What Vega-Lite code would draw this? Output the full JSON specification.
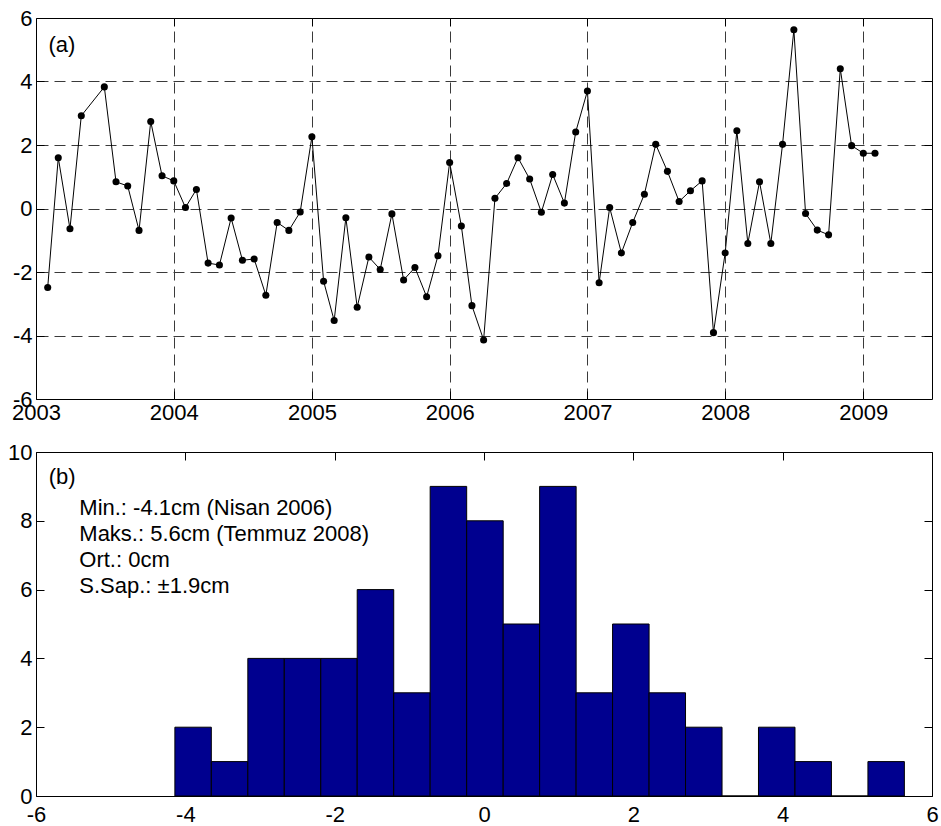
{
  "$schema": "https://vega.github.io/schema/vega-lite/v6.json",
  "background": "white",
  "padding": {"left": 7, "top": 6, "right": 3, "bottom": 0},
  "config": {
    "font": "Liberation Sans",
    "view": {"stroke": "black", "strokeWidth": 1, "fill": "white"},
    "axis": {
      "domain": false,
      "labelFont": "Liberation Sans",
      "labelFontSize": 22,
      "labelColor": "black",
      "labelFlush": false,
      "labelOverlap": false,
      "ticks": true,
      "tickColor": "black",
      "tickSize": -8,
      "tickWidth": 1,
      "gridColor": "#3a3a3a",
      "gridDash": [11, 6],
      "gridWidth": 1,
      "gridOpacity": 1
    },
    "text": {"font": "Liberation Sans", "fontSize": 22, "color": "black"}
  },
  "datasets": {
    "monthly": [
      {"month": "2003-02-01", "anomaly_cm": -2.49},
      {"month": "2003-03-01", "anomaly_cm": 1.60},
      {"month": "2003-04-01", "anomaly_cm": -0.64},
      {"month": "2003-05-01", "anomaly_cm": 2.92},
      {"month": "2003-07-01", "anomaly_cm": 3.83},
      {"month": "2003-08-01", "anomaly_cm": 0.84},
      {"month": "2003-09-01", "anomaly_cm": 0.71},
      {"month": "2003-10-01", "anomaly_cm": -0.69},
      {"month": "2003-11-01", "anomaly_cm": 2.74},
      {"month": "2003-12-01", "anomaly_cm": 1.03},
      {"month": "2004-01-01", "anomaly_cm": 0.87},
      {"month": "2004-02-01", "anomaly_cm": 0.03},
      {"month": "2004-03-01", "anomaly_cm": 0.60},
      {"month": "2004-04-01", "anomaly_cm": -1.72},
      {"month": "2004-05-01", "anomaly_cm": -1.78},
      {"month": "2004-06-01", "anomaly_cm": -0.30},
      {"month": "2004-07-01", "anomaly_cm": -1.63},
      {"month": "2004-08-01", "anomaly_cm": -1.59},
      {"month": "2004-09-01", "anomaly_cm": -2.73},
      {"month": "2004-10-01", "anomaly_cm": -0.44},
      {"month": "2004-11-01", "anomaly_cm": -0.69},
      {"month": "2004-12-01", "anomaly_cm": -0.11},
      {"month": "2005-01-01", "anomaly_cm": 2.26},
      {"month": "2005-02-01", "anomaly_cm": -2.29},
      {"month": "2005-03-01", "anomaly_cm": -3.53},
      {"month": "2005-04-01", "anomaly_cm": -0.29},
      {"month": "2005-05-01", "anomaly_cm": -3.11},
      {"month": "2005-06-01", "anomaly_cm": -1.53},
      {"month": "2005-07-01", "anomaly_cm": -1.92},
      {"month": "2005-08-01", "anomaly_cm": -0.17},
      {"month": "2005-09-01", "anomaly_cm": -2.25},
      {"month": "2005-10-01", "anomaly_cm": -1.86},
      {"month": "2005-11-01", "anomaly_cm": -2.78},
      {"month": "2005-12-01", "anomaly_cm": -1.49},
      {"month": "2006-01-01", "anomaly_cm": 1.45},
      {"month": "2006-02-01", "anomaly_cm": -0.55},
      {"month": "2006-03-01", "anomaly_cm": -3.06},
      {"month": "2006-04-01", "anomaly_cm": -4.14},
      {"month": "2006-05-01", "anomaly_cm": 0.32},
      {"month": "2006-06-01", "anomaly_cm": 0.79},
      {"month": "2006-07-01", "anomaly_cm": 1.60},
      {"month": "2006-08-01", "anomaly_cm": 0.93},
      {"month": "2006-09-01", "anomaly_cm": -0.12},
      {"month": "2006-10-01", "anomaly_cm": 1.07},
      {"month": "2006-11-01", "anomaly_cm": 0.17},
      {"month": "2006-12-01", "anomaly_cm": 2.41},
      {"month": "2007-01-01", "anomaly_cm": 3.70},
      {"month": "2007-02-01", "anomaly_cm": -2.34},
      {"month": "2007-03-01", "anomaly_cm": 0.03},
      {"month": "2007-04-01", "anomaly_cm": -1.40},
      {"month": "2007-05-01", "anomaly_cm": -0.44},
      {"month": "2007-06-01", "anomaly_cm": 0.45},
      {"month": "2007-07-01", "anomaly_cm": 2.02},
      {"month": "2007-08-01", "anomaly_cm": 1.17},
      {"month": "2007-09-01", "anomaly_cm": 0.22},
      {"month": "2007-10-01", "anomaly_cm": 0.56},
      {"month": "2007-11-01", "anomaly_cm": 0.87},
      {"month": "2007-12-01", "anomaly_cm": -3.91},
      {"month": "2008-01-01", "anomaly_cm": -1.40},
      {"month": "2008-02-01", "anomaly_cm": 2.45},
      {"month": "2008-03-01", "anomaly_cm": -1.10},
      {"month": "2008-04-01", "anomaly_cm": 0.84},
      {"month": "2008-05-01", "anomaly_cm": -1.10},
      {"month": "2008-06-01", "anomaly_cm": 2.02},
      {"month": "2008-07-01", "anomaly_cm": 5.63},
      {"month": "2008-08-01", "anomaly_cm": -0.16},
      {"month": "2008-09-01", "anomaly_cm": -0.68},
      {"month": "2008-10-01", "anomaly_cm": -0.83},
      {"month": "2008-11-01", "anomaly_cm": 4.40},
      {"month": "2008-12-01", "anomaly_cm": 1.98},
      {"month": "2009-01-01", "anomaly_cm": 1.74},
      {"month": "2009-02-01", "anomaly_cm": 1.74}
    ],
    "histogram": [
      {"bin_start": -4.14, "bin_end": -3.652, "count": 2},
      {"bin_start": -3.652, "bin_end": -3.163, "count": 1},
      {"bin_start": -3.163, "bin_end": -2.675, "count": 4},
      {"bin_start": -2.675, "bin_end": -2.186, "count": 4},
      {"bin_start": -2.186, "bin_end": -1.698, "count": 4},
      {"bin_start": -1.698, "bin_end": -1.209, "count": 6},
      {"bin_start": -1.209, "bin_end": -0.721, "count": 3},
      {"bin_start": -0.721, "bin_end": -0.232, "count": 9},
      {"bin_start": -0.232, "bin_end": 0.257, "count": 8},
      {"bin_start": 0.257, "bin_end": 0.745, "count": 5},
      {"bin_start": 0.745, "bin_end": 1.234, "count": 9},
      {"bin_start": 1.234, "bin_end": 1.722, "count": 3},
      {"bin_start": 1.722, "bin_end": 2.211, "count": 5},
      {"bin_start": 2.211, "bin_end": 2.699, "count": 3},
      {"bin_start": 2.699, "bin_end": 3.188, "count": 2},
      {"bin_start": 3.188, "bin_end": 3.676, "count": 0},
      {"bin_start": 3.676, "bin_end": 4.165, "count": 2},
      {"bin_start": 4.165, "bin_end": 4.653, "count": 1},
      {"bin_start": 4.653, "bin_end": 5.142, "count": 0},
      {"bin_start": 5.142, "bin_end": 5.63, "count": 1}
    ]
  },
  "bounds": "flush",
  "spacing": 53,
  "vconcat": [
    {
      "width": 896,
      "height": 381,
      "layer": [
        {
          "data": {"name": "monthly"},
          "mark": {"type": "line", "color": "black", "strokeWidth": 1},
          "encoding": {
            "x": {
              "field": "month",
              "type": "temporal",
              "scale": {
                "type": "utc",
                "domain": [
                  {"year": 2003, "month": 1, "date": 1, "utc": true},
                  {"year": 2009, "month": 7, "date": 2, "utc": true}
                ]
              },
              "axis": {
                "orient": "bottom",
                "title": null,
                "grid": false,
                "format": "%Y",
                "labelPadding": 11.5,
                "values": [
                  {"year": 2003, "utc": true},
                  {"year": 2004, "utc": true},
                  {"year": 2005, "utc": true},
                  {"year": 2006, "utc": true},
                  {"year": 2007, "utc": true},
                  {"year": 2008, "utc": true},
                  {"year": 2009, "utc": true}
                ]
              }
            },
            "y": {
              "field": "anomaly_cm",
              "type": "quantitative",
              "scale": {"domain": [-6, 6], "nice": false, "zero": false},
              "axis": {
                "orient": "left",
                "title": null,
                "grid": false,
                "labelPadding": 12,
                "labelExpr": "datum.value < 0 ? '-' + (-datum.value) : '' + datum.value",
                "values": [-6, -4, -2, 0, 2, 4, 6]
              }
            }
          }
        },
        {
          "data": {"name": "monthly"},
          "mark": {"type": "point", "filled": true, "color": "black", "opacity": 1, "size": 50},
          "encoding": {
            "x": {
              "field": "month",
              "type": "temporal",
              "axis": {
                "orient": "top",
                "title": null,
                "labels": false,
                "grid": true,
                "values": [
                  {"year": 2004, "utc": true},
                  {"year": 2005, "utc": true},
                  {"year": 2006, "utc": true},
                  {"year": 2007, "utc": true},
                  {"year": 2008, "utc": true},
                  {"year": 2009, "utc": true}
                ]
              }
            },
            "y": {
              "field": "anomaly_cm",
              "type": "quantitative",
              "axis": {
                "orient": "right",
                "title": null,
                "labels": false,
                "grid": true,
                "values": [-4, -2, 0, 2, 4]
              }
            }
          }
        },
        {
          "data": {"values": [{"panel": "a"}]},
          "mark": {"type": "text", "align": "left", "baseline": "alphabetic"},
          "encoding": {
            "x": {"datum": {"year": 2003, "month": 2, "date": 3, "utc": true}, "type": "temporal", "axis": null},
            "y": {"datum": 4.93, "type": "quantitative", "axis": null},
            "text": {"value": "(a)"}
          }
        }
      ],
      "resolve": {"axis": {"x": "independent", "y": "independent"}}
    },
    {
      "width": 896,
      "height": 344,
      "layer": [
        {
          "data": {"name": "histogram"},
          "mark": {"type": "bar", "fill": "#00008f", "stroke": "black", "strokeWidth": 1},
          "encoding": {
            "x": {
              "field": "bin_start",
              "type": "quantitative",
              "scale": {"domain": [-6, 6], "nice": false, "zero": false},
              "axis": {
                "orient": "bottom",
                "title": null,
                "grid": false,
                "labelBaseline": "alphabetic",
                "labelPadding": 33.5,
                "labelExpr": "datum.value < 0 ? '-' + (-datum.value) : '' + datum.value",
                "values": [-6, -4, -2, 0, 2, 4, 6]
              }
            },
            "x2": {"field": "bin_end"},
            "y": {
              "field": "count",
              "type": "quantitative",
              "scale": {"domain": [0, 10], "nice": false},
              "axis": {
                "orient": "left",
                "title": null,
                "grid": false,
                "labelPadding": 12,
                "values": [0, 2, 4, 6, 8, 10]
              }
            },
            "y2": {"datum": 0}
          }
        },
        {
          "data": {"values": [{"panel": "b"}]},
          "mark": {"type": "text", "align": "left", "baseline": "alphabetic", "lineHeight": 26},
          "encoding": {
            "x": {
              "datum": -5.42,
              "type": "quantitative",
              "axis": {"orient": "top", "title": null, "labels": false, "grid": false, "values": [-6, -4, -2, 0, 2, 4, 6]}
            },
            "y": {
              "datum": 8.16,
              "type": "quantitative",
              "axis": {"orient": "right", "title": null, "labels": false, "grid": false, "values": [0, 2, 4, 6, 8, 10]}
            },
            "text": {"value": ["Min.: -4.1cm (Nisan 2006)", "Maks.: 5.6cm (Temmuz 2008)", "Ort.: 0cm", "S.Sap.: ±1.9cm"]}
          }
        },
        {
          "data": {"values": [{"panel": "b"}]},
          "mark": {"type": "text", "align": "left", "baseline": "alphabetic"},
          "encoding": {
            "x": {"datum": -5.83, "type": "quantitative", "axis": null},
            "y": {"datum": 9.06, "type": "quantitative", "axis": null},
            "text": {"value": "(b)"}
          }
        }
      ],
      "resolve": {"axis": {"x": "independent", "y": "independent"}}
    }
  ]
}
